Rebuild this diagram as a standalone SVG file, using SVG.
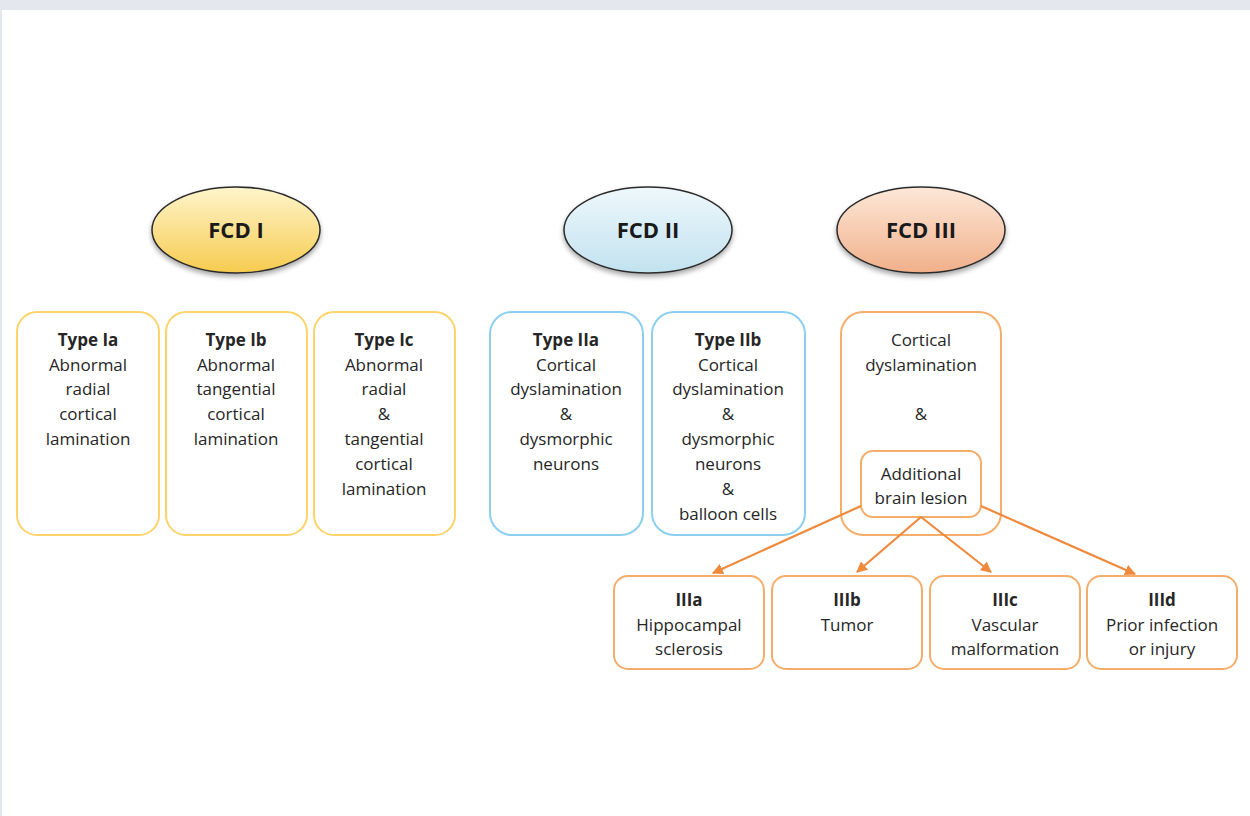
<svg xmlns="http://www.w3.org/2000/svg" width="1250" height="816" viewBox="0 0 1250 816">
<defs>
<linearGradient id="gY" x1="0" y1="0" x2="0" y2="1"><stop offset="0" stop-color="#fff5cc"/><stop offset="1" stop-color="#f6cb4f"/></linearGradient>
<linearGradient id="gB" x1="0" y1="0" x2="0" y2="1"><stop offset="0" stop-color="#eef8fc"/><stop offset="1" stop-color="#c2e2ef"/></linearGradient>
<linearGradient id="gO" x1="0" y1="0" x2="0" y2="1"><stop offset="0" stop-color="#fde8d8"/><stop offset="1" stop-color="#f1b08a"/></linearGradient>
<filter id="sh" x="-20%" y="-20%" width="140%" height="150%"><feDropShadow dx="0" dy="3" stdDeviation="2.5" flood-color="#000" flood-opacity="0.35"/></filter>
<marker id="ah" viewBox="0 0 10 10" refX="9" refY="5" markerWidth="5" markerHeight="5" orient="auto"><path d="M0,0 L10,5 L0,10 z" fill="#ef8a3c"/></marker>
<style>
.t{font-family:"Open Sans","Lato","Liberation Sans",sans-serif;font-size:17px;fill:#262626;text-anchor:middle}
.b{font-weight:bold}
.h{font-family:"Open Sans","Lato","Liberation Sans",sans-serif;font-size:22px;font-weight:bold;fill:#1a1a1a;text-anchor:middle}
.ell{stroke:#2b2b2b;stroke-width:1.5;filter:url(#sh)}
.y{fill:#fff;stroke:#fdd36a;stroke-width:2}
.bl{fill:#fff;stroke:#8ccff0;stroke-width:2}
.o{fill:#fff;stroke:#f5ad6b;stroke-width:2}
.c{stroke:#ef8a3c;stroke-width:2.2;fill:none;marker-end:url(#ah)}
</style>
</defs>
<rect width="1250" height="816" fill="#e4e7ee"/>
<rect x="2" y="10" width="1248" height="806" fill="#fff"/>

<g id="fcd1"><ellipse class="ell" cx="236" cy="230" rx="84" ry="43" fill="url(#gY)"/><text class="h" x="236" y="238">FCD I</text></g>
<g id="fcd2"><ellipse class="ell" cx="648" cy="230" rx="84" ry="43" fill="url(#gB)"/><text class="h" x="648" y="238">FCD II</text></g>
<g id="fcd3"><ellipse class="ell" cx="921" cy="230" rx="84" ry="43" fill="url(#gO)"/><text class="h" x="921" y="238">FCD III</text></g>

<g id="ia"><rect class="y" x="17" y="312" width="142" height="223" rx="20"/>
<text class="t" x="88"><tspan class="b" x="88" y="346">Type Ia</tspan><tspan x="88" y="371">Abnormal</tspan><tspan x="88" y="395">radial</tspan><tspan x="88" y="420">cortical</tspan><tspan x="88" y="445">lamination</tspan></text></g>
<g id="ib"><rect class="y" x="166" y="312" width="141" height="223" rx="20"/>
<text class="t" x="236"><tspan class="b" x="236" y="346">Type Ib</tspan><tspan x="236" y="371">Abnormal</tspan><tspan x="236" y="395">tangential</tspan><tspan x="236" y="420">cortical</tspan><tspan x="236" y="445">lamination</tspan></text></g>
<g id="ic"><rect class="y" x="314" y="312" width="141" height="223" rx="20"/>
<text class="t" x="384"><tspan class="b" x="384" y="346">Type Ic</tspan><tspan x="384" y="371">Abnormal</tspan><tspan x="384" y="395">radial</tspan><tspan x="384" y="420">&amp;</tspan><tspan x="384" y="445">tangential</tspan><tspan x="384" y="470">cortical</tspan><tspan x="384" y="495">lamination</tspan></text></g>

<g id="iia"><rect class="bl" x="490" y="312" width="153" height="223" rx="22"/>
<text class="t" x="566"><tspan class="b" x="566" y="346">Type IIa</tspan><tspan x="566" y="371">Cortical</tspan><tspan x="566" y="395">dyslamination</tspan><tspan x="566" y="420">&amp;</tspan><tspan x="566" y="445">dysmorphic</tspan><tspan x="566" y="470">neurons</tspan></text></g>
<g id="iib"><rect class="bl" x="652" y="312" width="153" height="223" rx="22"/>
<text class="t" x="728"><tspan class="b" x="728" y="346">Type IIb</tspan><tspan x="728" y="371">Cortical</tspan><tspan x="728" y="395">dyslamination</tspan><tspan x="728" y="420">&amp;</tspan><tspan x="728" y="445">dysmorphic</tspan><tspan x="728" y="470">neurons</tspan><tspan x="728" y="495">&amp;</tspan><tspan x="728" y="520">balloon cells</tspan></text></g>

<g id="iii"><rect class="o" x="841" y="312" width="160" height="223" rx="22"/>
<text class="t" x="921"><tspan x="921" y="346">Cortical</tspan><tspan x="921" y="371">dyslamination</tspan><tspan x="921" y="420">&amp;</tspan></text></g>
<g id="lesion"><rect class="o" x="861" y="451" width="120" height="66" rx="12"/>
<text class="t" x="921"><tspan x="921" y="480">Additional</tspan><tspan x="921" y="504">brain lesion</tspan></text></g>

<g id="connectors">
<line class="c" x1="861" y1="506" x2="713" y2="573"/>
<line class="c" x1="921" y1="517" x2="857" y2="572"/>
<line class="c" x1="921" y1="517" x2="991" y2="572"/>
<line class="c" x1="981" y1="506" x2="1135" y2="574"/>
</g>

<g id="iiia"><rect class="o" x="614" y="576" width="150" height="93" rx="14"/>
<text class="t" x="689"><tspan class="b" x="689" y="606">IIIa</tspan><tspan x="689" y="631">Hippocampal</tspan><tspan x="689" y="655">sclerosis</tspan></text></g>
<g id="iiib"><rect class="o" x="772" y="576" width="150" height="93" rx="14"/>
<text class="t" x="847"><tspan class="b" x="847" y="606">IIIb</tspan><tspan x="847" y="631">Tumor</tspan></text></g>
<g id="iiic"><rect class="o" x="930" y="576" width="150" height="93" rx="14"/>
<text class="t" x="1005"><tspan class="b" x="1005" y="606">IIIc</tspan><tspan x="1005" y="631">Vascular</tspan><tspan x="1005" y="655">malformation</tspan></text></g>
<g id="iiid"><rect class="o" x="1087" y="576" width="150" height="93" rx="14"/>
<text class="t" x="1162"><tspan class="b" x="1162" y="606">IIId</tspan><tspan x="1162" y="631">Prior infection</tspan><tspan x="1162" y="655">or injury</tspan></text></g>
</svg>
